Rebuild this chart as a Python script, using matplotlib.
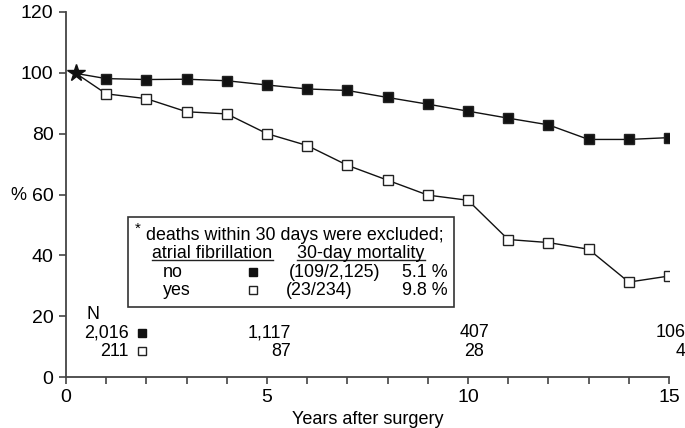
import matplotlib
matplotlib.use("Agg")
import matplotlib.pyplot as plt
from matplotlib.patches import Rectangle

plt.rcParams["font.family"] = ["Liberation Sans", "DejaVu Sans"]
plt.rcParams["font.size"] = 10.5

# ---------- data ---------- #
years = list(range(1, 16))
af_no = [98.1, 97.8, 97.9, 97.4, 96.0, 94.7, 94.2, 91.9, 89.7, 87.4,
         85.1, 82.9, 78.1, 78.1, 78.7]
af_yes = [93.1, 91.5, 87.2, 86.5, 80.0, 76.1, 69.6, 64.7, 59.8, 58.1,
          45.2, 44.2, 42.0, 31.2, 33.2]
start_x, start_y = 0.25, 99.8

n_no = ["2,016", "1,117", "407", "106"]
n_yes = ["211", "87", "28", "4"]

axc = "#444444"

fig = plt.figure(figsize=(6.85, 4.28), dpi=100)
ax = fig.add_axes([66/685, 1-377/428, (669-66)/685, (377-12)/428])

for ys, face in [(af_no, "#111111"), (af_yes, "white")]:
    ax.plot([start_x] + years, [start_y] + ys, color="#111111", lw=1.0, zorder=2)
    ax.plot(years, ys, ls="none", marker="s", ms=7.5, mfc=face,
            mec="#222222", mew=1.0, zorder=3)
ax.plot([start_x], [start_y], marker="*", ms=13, color="#111111",
        ls="none", zorder=4)

ax.set_xlim(0, 15)
ax.set_ylim(0, 120)
ax.set_xticks(range(0, 16))
ax.set_xticklabels([str(i) if i % 5 == 0 else "" for i in range(16)])
ax.set_yticks(range(0, 121, 20))
for s in ["top", "right"]:
    ax.spines[s].set_visible(False)
for s in ["left", "bottom"]:
    ax.spines[s].set_color(axc)
    ax.spines[s].set_linewidth(1.3)
ax.tick_params(direction="out", length=5, width=1.2, color=axc,
               labelsize=14, pad=4)
ax.set_xlabel("Years after surgery", fontsize=13, labelpad=3)
fig.text(10/685, 1-196/428, "%", fontsize=13, va="center", ha="left")

# ---------- N at risk ---------- #
fs = 12.9
ax.text(0.5, 20.5, "N", fontsize=fs, ha="left", va="center")
row_y = [14.6, 8.4]
ha_list = ["right", "right", "center", "right"]
xpos = [1.55, 5.6, 10.15, 15.4]
for i in range(4):
    ax.text(xpos[i], row_y[0], n_no[i], fontsize=fs, ha=ha_list[i], va="center")
    ax.text(xpos[i], row_y[1], n_yes[i], fontsize=fs, ha=ha_list[i], va="center")
ax.plot([1.9], [row_y[0]], marker="s", ms=5.5, mfc="#111111", mec="#111111", ls="none")
ax.plot([1.9], [row_y[1]], marker="s", ms=5.5, mfc="white", mec="#222222", mew=1.0, ls="none")

# ---------- legend box ---------- #
ax.add_patch(Rectangle((1.55, 22.9), 8.1, 29.6, fill=False, ec="#333333", lw=1.2, zorder=1))
ax.text(1.70, 48.8, "*", fontsize=11, ha="left", va="center")
ax.text(1.98, 46.5, "deaths within 30 days were excluded;", fontsize=fs, ha="left", va="center")
t1 = ax.text(2.15, 40.6, "atrial fibrillation", fontsize=fs, ha="left", va="center")
t2 = ax.text(5.75, 40.6, "30-day mortality", fontsize=fs, ha="left", va="center")
ax.text(2.4, 34.5, "no", fontsize=fs, ha="left", va="center")
ax.text(2.4, 28.6, "yes", fontsize=fs, ha="left", va="center")
ax.plot([4.66], [34.5], marker="s", ms=5.5, mfc="#111111", mec="#111111", ls="none")
ax.plot([4.66], [28.6], marker="s", ms=5.5, mfc="white", mec="#222222", mew=1.0, ls="none")
ax.text(5.55, 34.5, "(109/2,125)", fontsize=fs, ha="left", va="center")
ax.text(5.47, 28.6, "(23/234)", fontsize=fs, ha="left", va="center")
ax.text(9.5, 34.5, "5.1 %", fontsize=fs, ha="right", va="center")
ax.text(9.5, 28.6, "9.8 %", fontsize=fs, ha="right", va="center")

# underline the two headers using their rendered extents
fig.canvas.draw()
inv = ax.transData.inverted()
for t in (t1, t2):
    bb = t.get_window_extent()
    (x0, y0), (x1, _) = inv.transform([(bb.x0, bb.y0), (bb.x1, bb.y0)])
    ax.plot([x0, x1], [y0 + 0.6, y0 + 0.6], color="#222222", lw=1.0)

fig.savefig("out.png", dpi=100)
